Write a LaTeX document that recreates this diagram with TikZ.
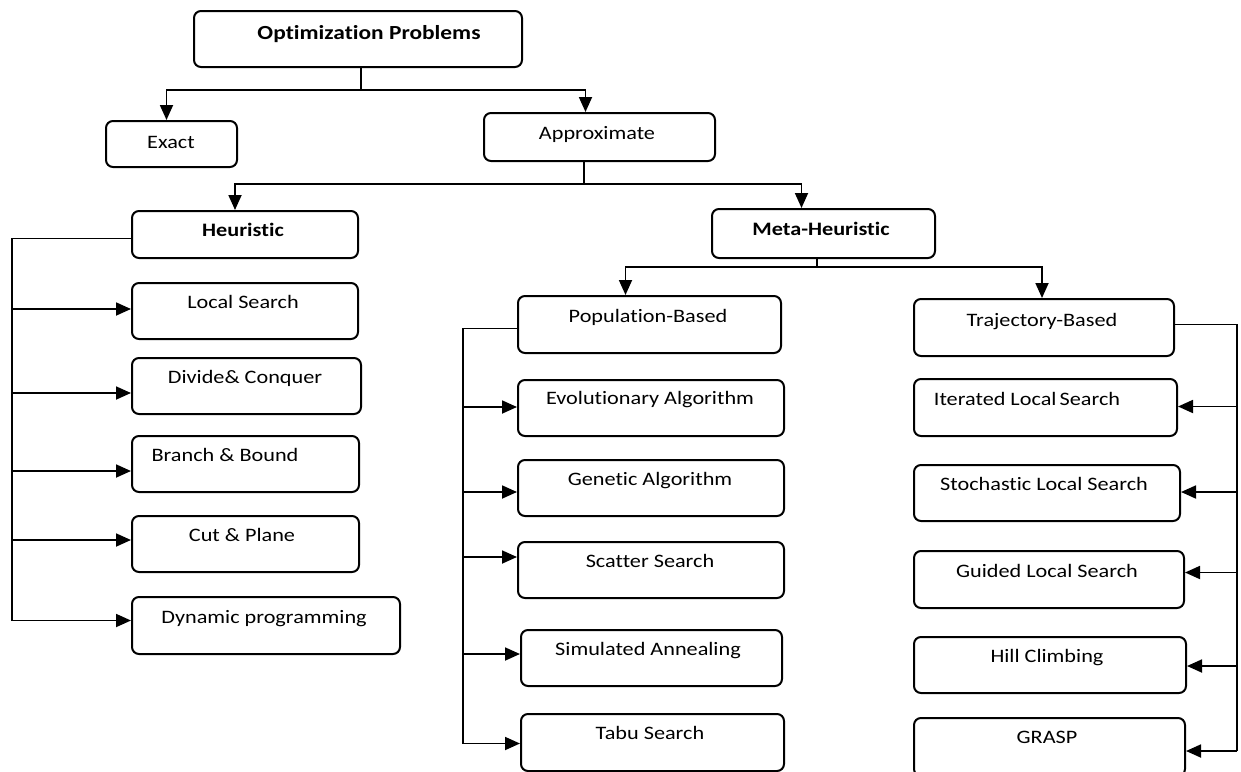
\documentclass[tikz,border=0pt]{standalone}
\usepackage{fontspec}
\setmainfont{Carlito}[FakeStretch=1.17,Ligatures={NoCommon,TeX}]
\usetikzlibrary{arrows.meta,calc}
\tikzset{
  boxst/.style={draw, line width=2pt, rounded corners=7pt, anchor=north west, inner sep=0pt, fill=white},
  lbl/.style={anchor=base, inner sep=0pt, font=\fontsize{19}{22}\selectfont},
  conn/.style={line width=1.8pt},
  arr/.style={line width=1.8pt, -{Triangle[length=15pt,width=13pt]}}
}
\newcommand\mybox[8]{%
  \node[boxst, minimum width={#4-#2}, minimum height={#5-#3}] (#1) at (#2,#3) {};
  \node[lbl] (#1-t) at (#6,#7) {#8};}
\begin{document}
\begin{tikzpicture}[x=1pt,y=-1pt]
\useasboundingbox (0,0) rectangle (1241,771);
% boxes
\mybox{opt}{193}{10}{521}{66}{369}{39}{\fontsize{20}{24}\selectfont\bfseries Optimization Problems}
\mybox{exact}{105}{120}{236}{166}{171}{148}{Exact}
\mybox{approx}{483}{112}{714}{160}{597}{139}{Approximate}
\mybox{heur}{131}{210}{357}{257}{243}{236}{\bfseries Heuristic}
\mybox{meta}{711}{208}{934}{257}{821}{235}{\bfseries Meta-Heuristic}
\mybox{pop}{517}{295}{780}{352}{648}{322}{Population-Based}
\mybox{traj}{913}{298}{1173}{355}{1042}{326}{Trajectory-Based}
% heuristic children
\mybox{ls}{131}{282}{357}{338}{243}{308}{Local Search}
\mybox{dc}{131}{357}{360}{413}{245}{383}{Divide\& Conquer}
\mybox{bb}{131}{435}{358}{491}{225}{461}{Branch \& Bound}
\mybox{cp}{131}{515}{358}{571}{242}{541}{Cut \& Plane}
\mybox{dp}{131}{596}{399}{653}{264}{623}{Dynamic programming}
% population children
\mybox{ev}{517}{379}{783}{435}{650}{404}{Evolutionary Algorithm}
\mybox{ga}{517}{459}{783}{515}{650}{485}{Genetic Algorithm}
\mybox{ss}{517}{541}{783}{597}{650}{567}{Scatter Search}
\mybox{sa}{520}{629}{781}{685}{648}{655}{Simulated Annealing}
\mybox{ts}{520}{713}{783}{770}{650}{739}{Tabu Search}
% trajectory children
\mybox{ils}{913}{378}{1176}{435}{1027}{405}{Iterated Local\,Search}
\mybox{sls}{913}{464}{1179}{520}{1044}{490}{Stochastic Local Search}
\mybox{gls}{913}{550}{1183}{607}{1047}{577}{Guided Local Search}
\mybox{hc}{913}{636}{1185}{692}{1047}{662}{Hill Climbing}
\mybox{grasp}{913}{717}{1184}{775}{1047}{743}{GRASP}

% top level connectors
\coordinate (j1) at (361,90);
\draw[conn] (j1 |- opt.south) -- (j1);
\draw[arr] (j1) -| ([xshift=-5pt]exact.north);
\draw[arr] (j1) -| ([xshift=-14pt]approx.north);

\coordinate (j2) at (584,184);
\draw[conn] (j2 |- approx.south) -- (j2);
\draw[arr] (j2) -| ([xshift=-10pt]heur.north);
\draw[arr] (j2) -| ([xshift=-22pt]meta.north);

\coordinate (j3) at (817,267);
\draw[conn] (j3 |- meta.south) -- (j3);
\draw[arr] (j3) -| ([xshift=-24pt]pop.north);
\draw[arr] (j3) -| ([xshift=-2pt]traj.north);

% heuristic trunk
\coordinate (hl) at (12,0);
\path ($(heur.west)+(0,4)$) coordinate (hs)
      ($(ls.west)+(0,-2)$) coordinate (lsin)
      ($(dc.west)+(0,7)$) coordinate (dcin)
      ($(bb.west)+(0,7)$) coordinate (bbin)
      ($(cp.west)+(0,-4)$) coordinate (cpin)
      ($(dp.west)+(0,-5)$) coordinate (dpin);
\draw[conn] (hs) -| (hl |- dpin);
\draw[arr] (hl |- lsin) -- (lsin);
\draw[arr] (hl |- dcin) -- (dcin);
\draw[arr] (hl |- bbin) -- (bbin);
\draw[arr] (hl |- cpin) -- (cpin);
\draw[arr] (hl |- dpin) -- (dpin);

% population trunk
\coordinate (pl) at (463,0);
\path ($(pop.west)+(0,4)$) coordinate (ps)
      ($(ev.west)+(0,-1)$) coordinate (evin)
      ($(ga.west)+(0,4)$) coordinate (gain)
      ($(ss.west)+(0,-13)$) coordinate (ssin)
      ($(sa.west)+(0,-4)$) coordinate (sain)
      ($(ts.west)+(0,1)$) coordinate (tsin);
\draw[conn] (ps) -| (pl |- tsin);
\draw[arr] (pl |- evin) -- (evin);
\draw[arr] (pl |- gain) -- (gain);
\draw[arr] (pl |- ssin) -- (ssin);
\draw[arr] (pl |- sain) -- (sain);
\draw[arr] (pl |- tsin) -- (tsin);

% trajectory trunk
\coordinate (tr) at (1237,0);
\path ($(traj.east)+(0,-3)$) coordinate (tst)
      ($(ils.east)+(0,-1)$) coordinate (ilsin)
      ($(sls.east)+(0,-1)$) coordinate (slsin)
      ($(gls.east)+(0,-7)$) coordinate (glsin)
      ($(hc.east)+(0,1)$) coordinate (hcin)
      ($(grasp.east)+(0,4)$) coordinate (graspin);
\draw[conn] (tst) -| (tr |- graspin);
\draw[arr] (tr |- ilsin) -- (ilsin);
\draw[arr] (tr |- slsin) -- (slsin);
\draw[arr] (tr |- glsin) -- (glsin);
\draw[arr] (tr |- hcin) -- (hcin);
\draw[arr] (tr |- graspin) -- (graspin);
\end{tikzpicture}
\end{document}
